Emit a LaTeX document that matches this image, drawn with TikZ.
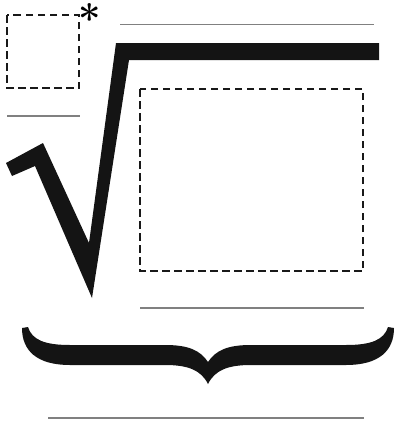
\documentclass[tikz,border=0pt]{standalone}
\usetikzlibrary{positioning}
\begin{document}
\begin{tikzpicture}[x=1pt,y=-1pt,
  thinrule/.style={draw=black!50,line width=1.1pt},
  placeholder/.style={draw=black!90,line width=2.4pt,dash pattern=on 7.5pt off 4.5pt,line cap=butt},
  ink/.style={fill=black!92,draw=none}]
\useasboundingbox (0,0) rectangle (395,423);
% placeholders
\draw[placeholder] (7,15) rectangle (79,88);
\draw[placeholder] (140,89) rectangle (363,271);
% asterisk
\node[inner sep=0pt,font=\fontsize{40}{40}\selectfont\bfseries] (ast) at (90,18.5) {*};
% thin rules
\draw[thinrule] (120,24.5) -- (374,24.5);
\draw[thinrule] (7,116) -- (80,116);
\draw[thinrule] (140,308) -- (364,308);
\draw[thinrule] (48,418) -- (364,418);
% radical sign
\fill[ink] (6,163) -- (43,143) -- (89,243) -- (116,43) -- (379,43) -- (379,60)
  -- (129,60) -- (92,298) -- (35,166) -- (12,176) -- cycle;
% brace
\fill[ink] (22,328) -- (28,327) .. controls (32,340) and (45,345) .. (70,345)
  -- (165,345) .. controls (188,345) and (200,350) .. (208,362)
  .. controls (216,350) and (228,345) .. (251,345) -- (346,345)
  .. controls (371,345) and (384,340) .. (388,327) -- (394,328)
  .. controls (394,350) and (380,365) .. (346,365) -- (251,365)
  .. controls (228,365) and (215,370) .. (208,384)
  .. controls (201,370) and (188,365) .. (165,365) -- (70,365)
  .. controls (36,365) and (22,350) .. cycle;
\end{tikzpicture}
\end{document}
